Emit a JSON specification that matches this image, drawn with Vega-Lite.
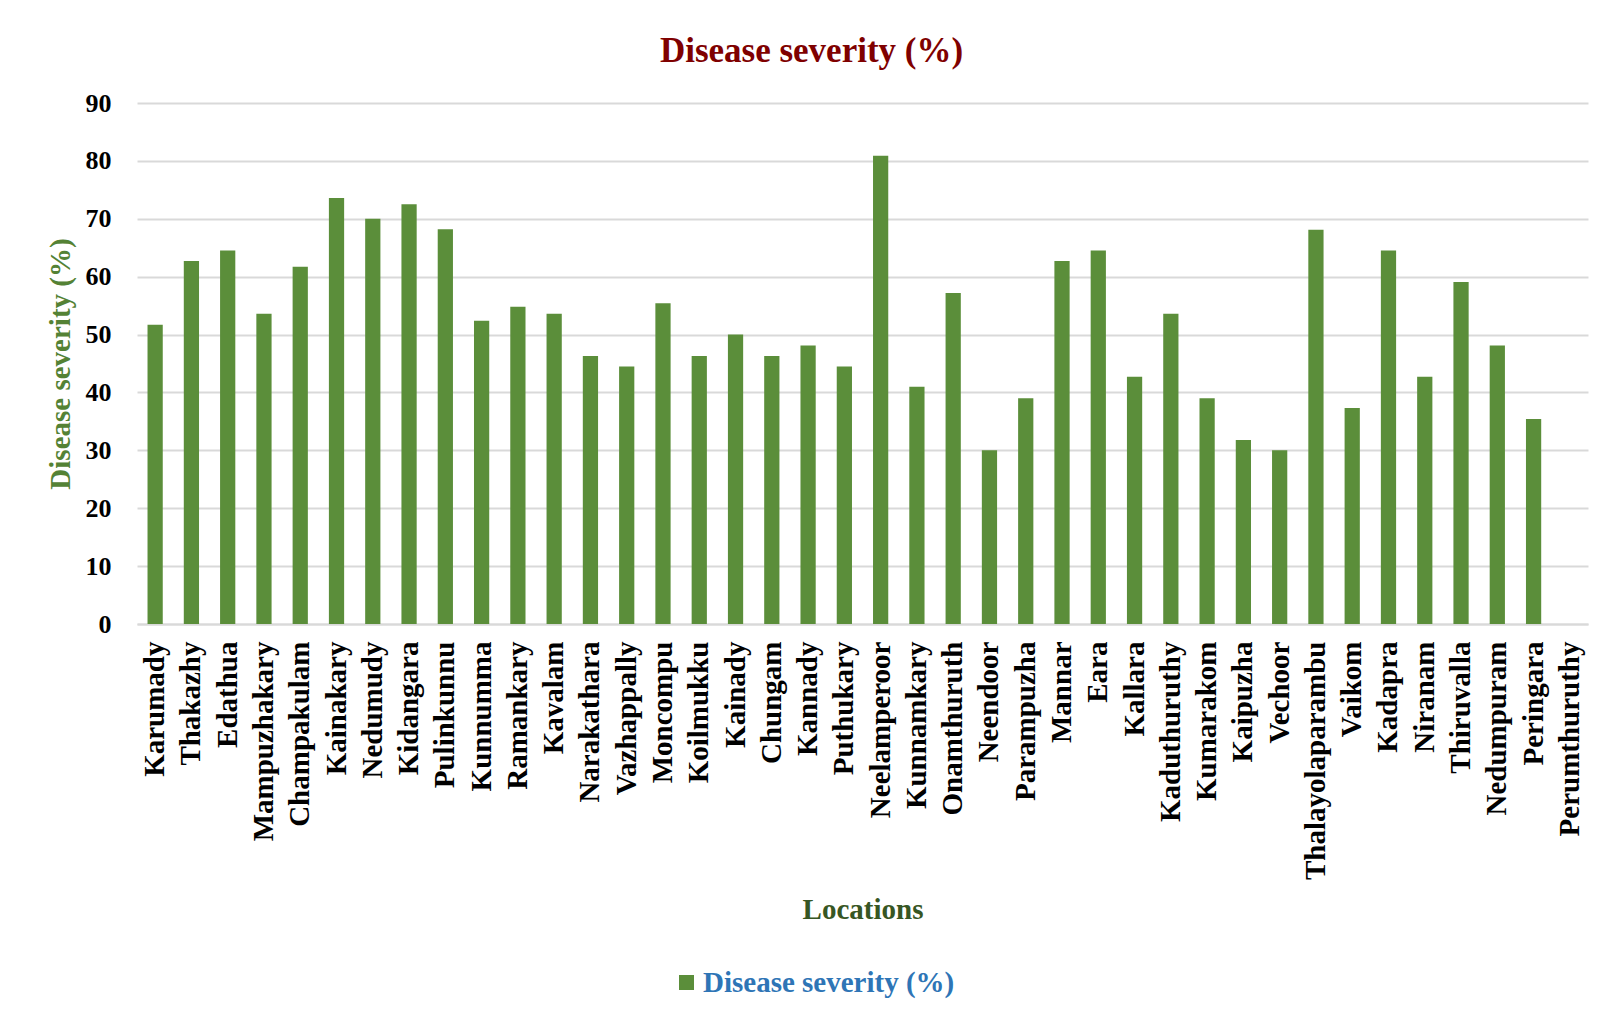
{
  "$schema": "https://vega.github.io/schema/vega-lite/v6.json",
  "width": 1451,
  "height": 521,
  "autosize": {"type": "none"},
  "padding": {"left": 137, "top": 103, "right": 24, "bottom": 397},
  "background": "white",
  "title": {
    "text": "Disease severity (%)",
    "font": "Liberation Serif",
    "fontSize": 35,
    "fontWeight": "bold",
    "color": "#7F0000",
    "anchor": "middle",
    "dx": -51,
    "offset": 21
  },
  "data": {
    "values": [
      {"Location": "Karumady", "Severity": 51.7},
      {"Location": "Thakazhy", "Severity": 62.7},
      {"Location": "Edathua", "Severity": 64.5},
      {"Location": "Mampuzhakary", "Severity": 53.6},
      {"Location": "Champakulam", "Severity": 61.7},
      {"Location": "Kainakary", "Severity": 73.6},
      {"Location": "Nedumudy", "Severity": 70.0},
      {"Location": "Kidangara", "Severity": 72.5},
      {"Location": "Pulinkunnu", "Severity": 68.2},
      {"Location": "Kunnumma", "Severity": 52.4},
      {"Location": "Ramankary", "Severity": 54.8},
      {"Location": "Kavalam", "Severity": 53.6},
      {"Location": "Narakathara", "Severity": 46.3},
      {"Location": "Vazhappally", "Severity": 44.5},
      {"Location": "Moncompu", "Severity": 55.4},
      {"Location": "Koilmukku", "Severity": 46.3},
      {"Location": "Kainady", "Severity": 50.0},
      {"Location": "Chungam", "Severity": 46.3},
      {"Location": "Kannady", "Severity": 48.1},
      {"Location": "Puthukary", "Severity": 44.5},
      {"Location": "Neelamperoor", "Severity": 80.9},
      {"Location": "Kunnamkary", "Severity": 41.0},
      {"Location": "Onamthuruth", "Severity": 57.2},
      {"Location": "Neendoor", "Severity": 30.0},
      {"Location": "Parampuzha", "Severity": 39.0},
      {"Location": "Mannar", "Severity": 62.7},
      {"Location": "Eara", "Severity": 64.5},
      {"Location": "Kallara", "Severity": 42.7},
      {"Location": "Kaduthuruthy", "Severity": 53.6},
      {"Location": "Kumarakom", "Severity": 39.0},
      {"Location": "Kaipuzha", "Severity": 31.8},
      {"Location": "Vechoor", "Severity": 30.0},
      {"Location": "Thalayolaparambu", "Severity": 68.1},
      {"Location": "Vaikom", "Severity": 37.3},
      {"Location": "Kadapra", "Severity": 64.5},
      {"Location": "Niranam", "Severity": 42.7},
      {"Location": "Thiruvalla", "Severity": 59.1},
      {"Location": "Nedumpuram", "Severity": 48.1},
      {"Location": "Peringara", "Severity": 35.4},
      {"Location": "Perumthuruthy", "Severity": 0}
    ]
  },
  "mark": {"type": "bar"},
  "encoding": {
    "x": {
      "field": "Location",
      "type": "nominal",
      "sort": null,
      "scale": {"paddingInner": 0.58, "paddingOuter": 0.29},
      "axis": {
        "title": "Locations",
        "titleFont": "Liberation Serif",
        "titleFontSize": 29,
        "titleFontWeight": "bold",
        "titleColor": "#375623",
        "titlePadding": 71,
        "labelFont": "Liberation Serif",
        "labelFontSize": 29,
        "labelFontWeight": "bold",
        "labelColor": "black",
        "labelAngle": -90,
        "labelPadding": 17,
        "labelLimit": 400,
        "ticks": false,
        "domain": true,
        "domainColor": "#D9D9D9",
        "domainWidth": 2,
        "grid": false
      }
    },
    "y": {
      "field": "Severity",
      "type": "quantitative",
      "scale": {"domain": [0, 90], "nice": false},
      "axis": {
        "title": "Disease severity (%)",
        "titleFont": "Liberation Serif",
        "titleFontSize": 29,
        "titleFontWeight": "bold",
        "titleColor": "#548235",
        "titlePadding": 10,
        "values": [0, 10, 20, 30, 40, 50, 60, 70, 80, 90],
        "labelFont": "Liberation Serif",
        "labelFontSize": 26,
        "labelFontWeight": "bold",
        "labelColor": "black",
        "labelPadding": 26,
        "ticks": false,
        "domain": false,
        "grid": true,
        "gridColor": "#D9D9D9",
        "gridWidth": 2
      }
    },
    "color": {
      "datum": "Disease severity (%)",
      "type": "nominal",
      "scale": {"range": ["#5B8E3A"]},
      "legend": {
        "title": null,
        "orient": "none",
        "legendX": 535,
        "legendY": 865,
        "padding": 0,
        "symbolType": "square",
        "symbolSize": 225,
        "symbolStrokeWidth": 0,
        "labelFont": "Liberation Serif",
        "labelFontSize": 29,
        "labelFontWeight": "bold",
        "labelColor": "#2E75B6",
        "labelLimit": 500,
        "labelOffset": 2
      }
    }
  },
  "config": {
    "view": {"stroke": null}
  }
}
